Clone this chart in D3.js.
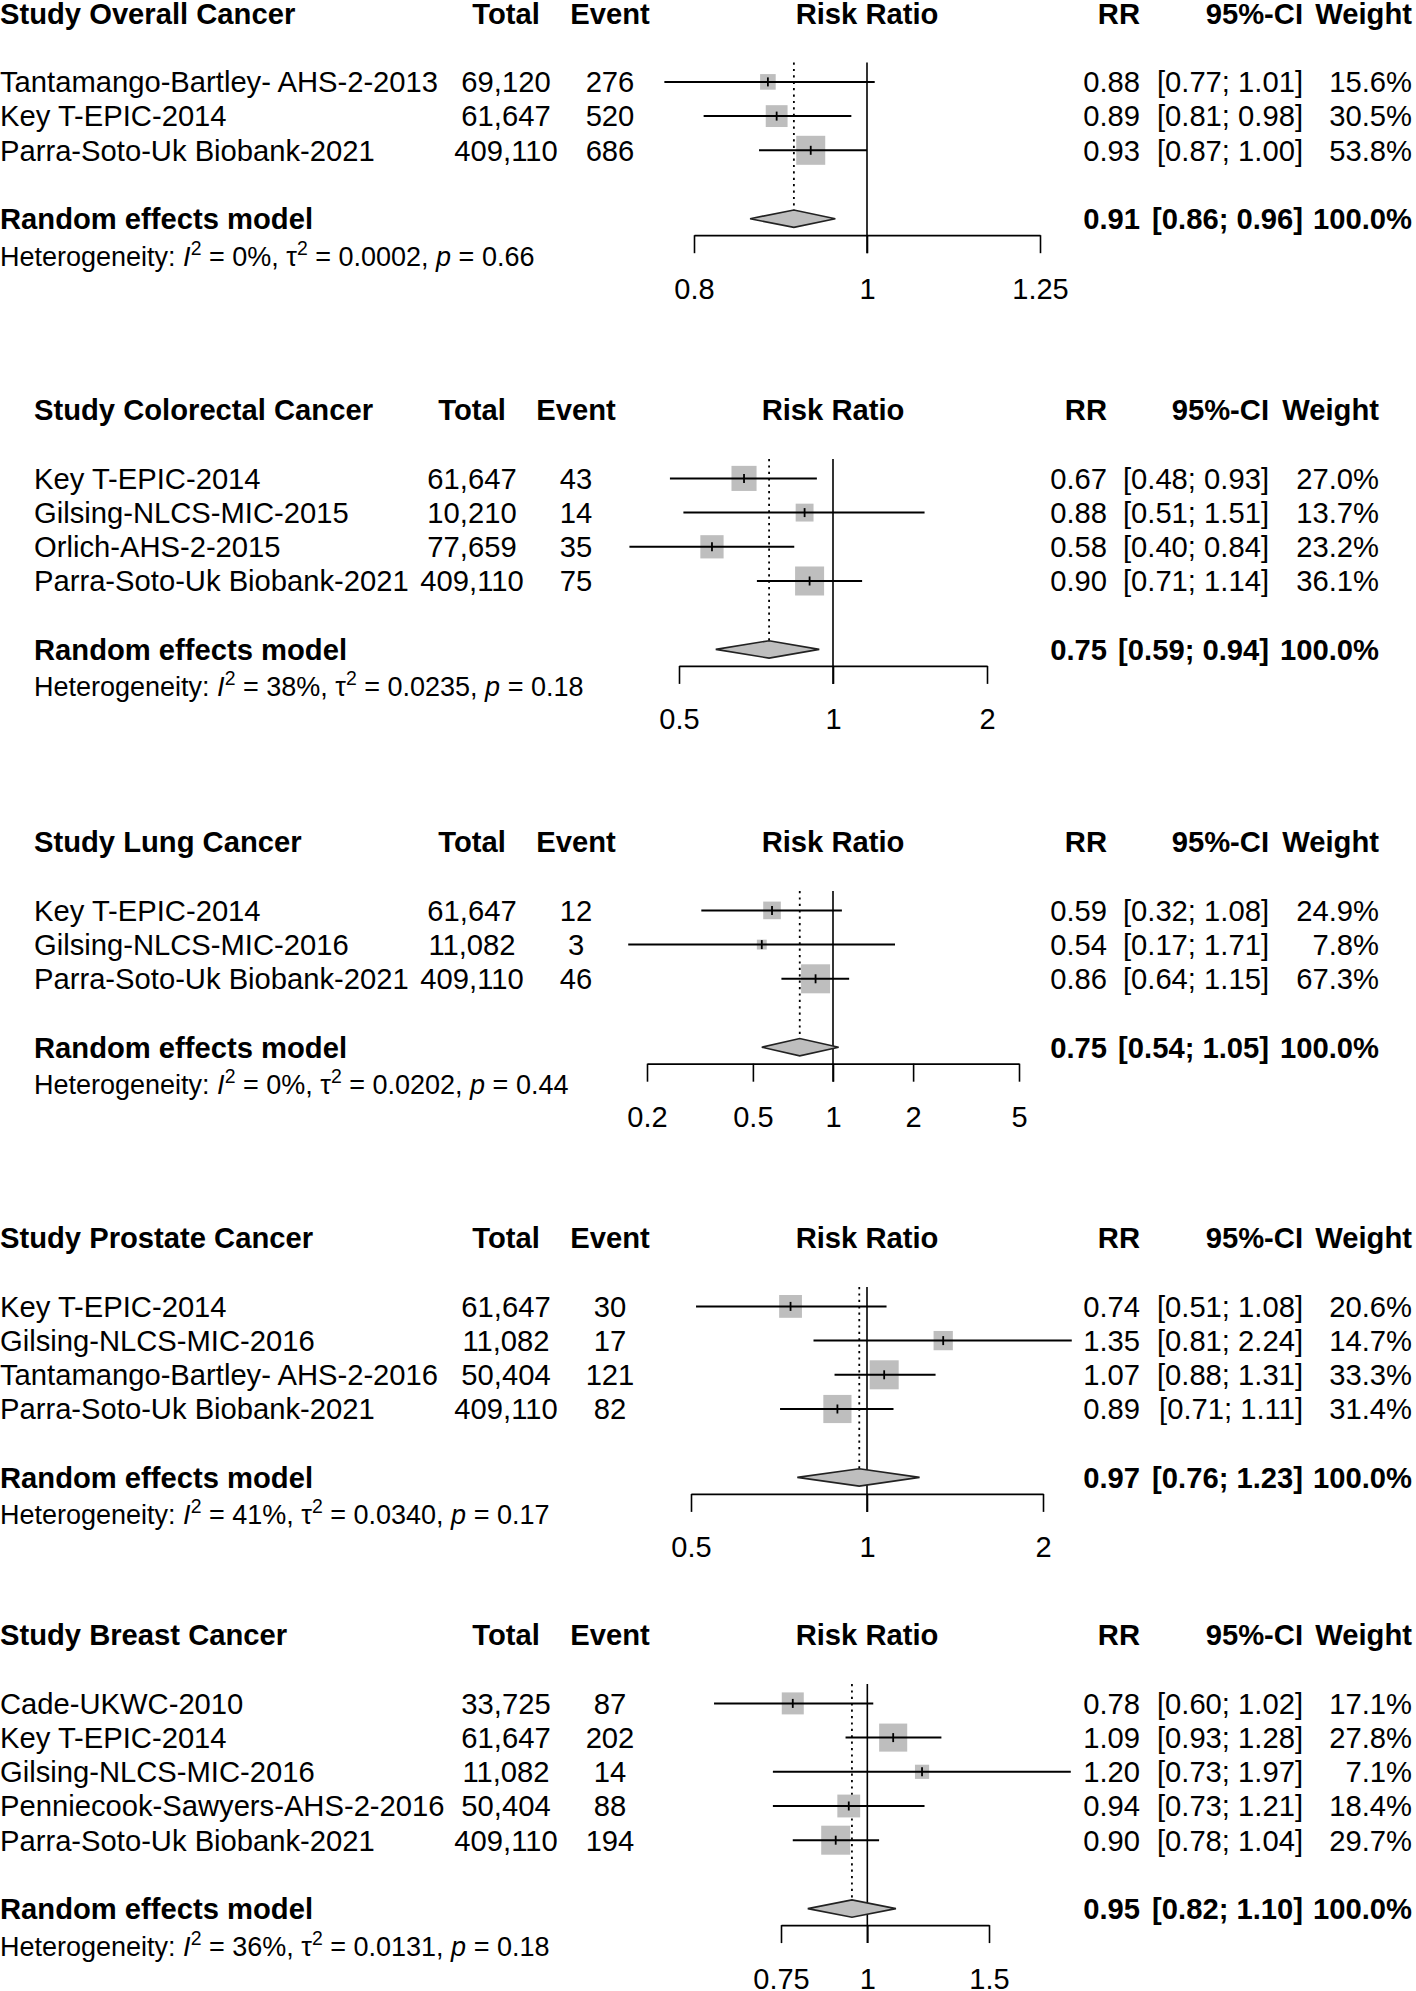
<!DOCTYPE html>
<html><head><meta charset="utf-8">
<script src="https://cdn.jsdelivr.net/npm/d3@7"></script>
<style>
body{margin:0;background:#fff}
svg{display:block}
text{font-family:"Liberation Sans",Arial,Helvetica,sans-serif;fill:#000}
</style>
</head><body>
<script>
// ---------- DATA ----------
const panelTitles = ["Study Overall Cancer","Study Colorectal Cancer","Study Lung Cancer","Study Prostate Cancer","Study Breast Cancer"];
const columnHeaders = ["Total","Event","Risk Ratio","RR","95%-CI","Weight"];
const pooledLabel = "Random effects model";

const overallStudies = ["Tantamango-Bartley- AHS-2-2013","Key T-EPIC-2014","Parra-Soto-Uk Biobank-2021"];
const overallTotal = [69120,61647,409110];
const overallEvent = [276,520,686];
const overallRR = [0.88,0.89,0.93];
const overallLower = [0.77,0.81,0.87];
const overallUpper = [1.01,0.98,1.00];
const overallWeight = [15.6,30.5,53.8];

const colorectalStudies = ["Key T-EPIC-2014","Gilsing-NLCS-MIC-2015","Orlich-AHS-2-2015","Parra-Soto-Uk Biobank-2021"];
const colorectalTotal = [61647,10210,77659,409110];
const colorectalEvent = [43,14,35,75];
const colorectalRR = [0.67,0.88,0.58,0.90];
const colorectalLower = [0.48,0.51,0.40,0.71];
const colorectalUpper = [0.93,1.51,0.84,1.14];
const colorectalWeight = [27.0,13.7,23.2,36.1];

const lungStudies = ["Key T-EPIC-2014","Gilsing-NLCS-MIC-2016","Parra-Soto-Uk Biobank-2021"];
const lungTotal = [61647,11082,409110];
const lungEvent = [12,3,46];
const lungRR = [0.59,0.54,0.86];
const lungLower = [0.32,0.17,0.64];
const lungUpper = [1.08,1.71,1.15];
const lungWeight = [24.9,7.8,67.3];

const prostateStudies = ["Key T-EPIC-2014","Gilsing-NLCS-MIC-2016","Tantamango-Bartley- AHS-2-2016","Parra-Soto-Uk Biobank-2021"];
const prostateTotal = [61647,11082,50404,409110];
const prostateEvent = [30,17,121,82];
const prostateRR = [0.74,1.35,1.07,0.89];
const prostateLower = [0.51,0.81,0.88,0.71];
const prostateUpper = [1.08,2.24,1.31,1.11];
const prostateWeight = [20.6,14.7,33.3,31.4];

const breastStudies = ["Cade-UKWC-2010","Key T-EPIC-2014","Gilsing-NLCS-MIC-2016","Penniecook-Sawyers-AHS-2-2016","Parra-Soto-Uk Biobank-2021"];
const breastTotal = [33725,61647,11082,50404,409110];
const breastEvent = [87,202,14,88,194];
const breastRR = [0.78,1.09,1.20,0.94,0.90];
const breastLower = [0.60,0.93,0.73,0.73,0.78];
const breastUpper = [1.02,1.28,1.97,1.21,1.04];
const breastWeight = [17.1,27.8,7.1,18.4,29.7];

// pooled random effects: estimate, lower, upper
const pooledRR = [0.91,0.75,0.75,0.97,0.95];
const pooledLower = [0.86,0.59,0.54,0.76,0.82];
const pooledUpper = [0.96,0.94,1.05,1.23,1.10];
const hetI2 = [0,38,0,41,36];
const hetTau2 = ["0.0002","0.0235","0.0202","0.0340","0.0131"];
const hetP = ["0.66","0.18","0.44","0.17","0.18"];

const overallTicks = [0.8,1,1.25];
const colorectalTicks = [0.5,1,2];
const lungTicks = [0.2,0.5,1,2,5];
const prostateTicks = [0.5,1,2];
const breastTicks = [0.75,1,1.5];

// ---------- assemble ----------
const panels = [
  {studies:overallStudies,total:overallTotal,event:overallEvent,rr:overallRR,lo:overallLower,hi:overallUpper,w:overallWeight,ticks:overallTicks},
  {studies:colorectalStudies,total:colorectalTotal,event:colorectalEvent,rr:colorectalRR,lo:colorectalLower,hi:colorectalUpper,w:colorectalWeight,ticks:colorectalTicks},
  {studies:lungStudies,total:lungTotal,event:lungEvent,rr:lungRR,lo:lungLower,hi:lungUpper,w:lungWeight,ticks:lungTicks},
  {studies:prostateStudies,total:prostateTotal,event:prostateEvent,rr:prostateRR,lo:prostateLower,hi:prostateUpper,w:prostateWeight,ticks:prostateTicks},
  {studies:breastStudies,total:breastTotal,event:breastEvent,rr:breastRR,lo:breastLower,hi:breastUpper,w:breastWeight,ticks:breastTicks}
];
panels.forEach((p,i)=>{p.title=panelTitles[i];p.pooled=[pooledRR[i],pooledLower[i],pooledUpper[i]];p.het=[hetI2[i],hetTau2[i],hetP[i]];});

// ---------- LAYOUT (positions only) ----------
const layout = [
  {top:13.5,labelX:0,  totalC:506, eventC:610, rrR:1140, ciR:1303, wR:1412, center:867, range:[694,1040]},
  {top:410, labelX:34, totalC:472, eventC:576, rrR:1107, ciR:1269, wR:1379, center:833, range:[679,987]},
  {top:842, labelX:34, totalC:472, eventC:576, rrR:1107, ciR:1269, wR:1379, center:833, range:[647,1019]},
  {top:1238,labelX:0,  totalC:506, eventC:610, rrR:1140, ciR:1303, wR:1412, center:867, range:[691,1043]},
  {top:1635,labelX:0,  totalC:506, eventC:610, rrR:1140, ciR:1303, wR:1412, center:867, range:[781,989]}
];
const W = 1416, H = 1991;
const FS = 29.2, FS_TICK = 29, FS_HET = 27;
const STEP = 34.2, BASE = 10.3, MAXSIDE = 29;
const GREY = "#bebebe";

const svg = d3.select("body").append("svg").attr("width",W).attr("height",H);
svg.append("rect").attr("width",W).attr("height",H).attr("fill","#fff");

const fmtInt = d3.format(",");
const f2 = d3.format(".2f");

panels.forEach((p,pi)=>{
  const L = layout[pi];
  const g = svg.append("g");
  const x = d3.scaleLog().domain([p.ticks[0], p.ticks[p.ticks.length-1]]).range(L.range);
  const n = p.studies.length;
  const rowY = k => L.top + k*STEP;
  const reY = rowY(n+3);
  const refTop = L.top + 49;
  const axisY = reY + 16.5;

  // headers
  const hdr = g.append("g").attr("font-weight","bold").attr("font-size",FS);
  hdr.append("text").attr("x",L.labelX).attr("y",L.top+BASE).text(p.title);
  hdr.append("text").attr("x",L.totalC).attr("y",L.top+BASE).attr("text-anchor","middle").text(columnHeaders[0]);
  hdr.append("text").attr("x",L.eventC).attr("y",L.top+BASE).attr("text-anchor","middle").text(columnHeaders[1]);
  hdr.append("text").attr("x",L.center).attr("y",L.top+BASE).attr("text-anchor","middle").text(columnHeaders[2]);
  hdr.append("text").attr("x",L.rrR).attr("y",L.top+BASE).attr("text-anchor","end").text(columnHeaders[3]);
  hdr.append("text").attr("x",L.ciR).attr("y",L.top+BASE).attr("text-anchor","end").text(columnHeaders[4]);
  hdr.append("text").attr("x",L.wR).attr("y",L.top+BASE).attr("text-anchor","end").text(columnHeaders[5]);

  // reference line at 1 and dotted pooled line
  g.append("line").attr("x1",x(1)).attr("x2",x(1)).attr("y1",refTop).attr("y2",axisY+18)
    .attr("stroke","#000").attr("stroke-width",1.6);
  g.append("line").attr("x1",x(p.pooled[0])).attr("x2",x(p.pooled[0])).attr("y1",refTop).attr("y2",reY-8.5)
    .attr("stroke","#000").attr("stroke-width",1.8).attr("stroke-dasharray","2.2,4.2");

  // study rows
  const maxW = d3.max(p.w);
  p.studies.forEach((s,i)=>{
    const y = rowY(i+2);
    const t = g.append("g").attr("font-size",FS);
    t.append("text").attr("x",L.labelX).attr("y",y+BASE).text(s);
    t.append("text").attr("x",L.totalC).attr("y",y+BASE).attr("text-anchor","middle").text(fmtInt(p.total[i]));
    t.append("text").attr("x",L.eventC).attr("y",y+BASE).attr("text-anchor","middle").text(p.event[i]);
    t.append("text").attr("x",L.rrR).attr("y",y+BASE).attr("text-anchor","end").text(f2(p.rr[i]));
    t.append("text").attr("x",L.ciR).attr("y",y+BASE).attr("text-anchor","end").text("["+f2(p.lo[i])+"; "+f2(p.hi[i])+"]");
    t.append("text").attr("x",L.wR).attr("y",y+BASE).attr("text-anchor","end").text(p.w[i].toFixed(1)+"%");

    const side = MAXSIDE*Math.sqrt(p.w[i]/maxW);
    g.append("rect").attr("x",x(p.rr[i])-side/2).attr("y",y-side/2).attr("width",side).attr("height",side).attr("fill",GREY);
    g.append("line").attr("x1",x(p.lo[i])).attr("x2",x(p.hi[i])).attr("y1",y).attr("y2",y)
      .attr("stroke","#000").attr("stroke-width",2);
    g.append("line").attr("x1",x(p.rr[i])).attr("x2",x(p.rr[i])).attr("y1",y-4.5).attr("y2",y+4.5)
      .attr("stroke","#000").attr("stroke-width",1.8);
  });

  // pooled row
  const pr = g.append("g").attr("font-size",FS).attr("font-weight","bold");
  pr.append("text").attr("x",L.labelX).attr("y",reY+BASE).text(pooledLabel);
  pr.append("text").attr("x",L.rrR).attr("y",reY+BASE).attr("text-anchor","end").text(f2(p.pooled[0]));
  pr.append("text").attr("x",L.ciR).attr("y",reY+BASE).attr("text-anchor","end").text("["+f2(p.pooled[1])+"; "+f2(p.pooled[2])+"]");
  pr.append("text").attr("x",L.wR).attr("y",reY+BASE).attr("text-anchor","end").text("100.0%");
  const dh = 8.7;
  g.append("path")
    .attr("d",`M${x(p.pooled[1])},${reY} L${x(p.pooled[0])},${reY-dh} L${x(p.pooled[2])},${reY} L${x(p.pooled[0])},${reY+dh} Z`)
    .attr("fill",GREY).attr("stroke","#222").attr("stroke-width",1.6);

  // heterogeneity
  const het = g.append("text").attr("x",L.labelX).attr("y",reY+47).attr("font-size",FS_HET);
  het.append("tspan").text("Heterogeneity: ");
  het.append("tspan").attr("font-style","italic").text("I");
  het.append("tspan").attr("font-size",FS_HET*0.72).attr("dy",-11).text("2");
  het.append("tspan").attr("dy",11).text(" = "+p.het[0]+"%, ");
  het.append("tspan").text("τ");
  het.append("tspan").attr("font-size",FS_HET*0.72).attr("dy",-11).text("2");
  het.append("tspan").attr("dy",11).text(" = "+p.het[1]+", ");
  het.append("tspan").attr("font-style","italic").text("p");
  het.append("tspan").text(" = "+p.het[2]);

  // axis
  const ax = g.append("g").attr("transform",`translate(0,${axisY})`)
    .call(d3.axisBottom(x).tickValues(p.ticks).tickFormat(d=>String(d)).tickSize(18).tickSizeOuter(0).tickPadding(25));
  ax.select(".domain").attr("stroke","#000").attr("stroke-width",1.8);
  ax.selectAll(".tick line").attr("stroke","#000").attr("stroke-width",1.6);
  ax.selectAll(".tick text").attr("font-size",FS_TICK).attr("font-family",null).attr("fill","#000");
});
</script>
</body></html>
